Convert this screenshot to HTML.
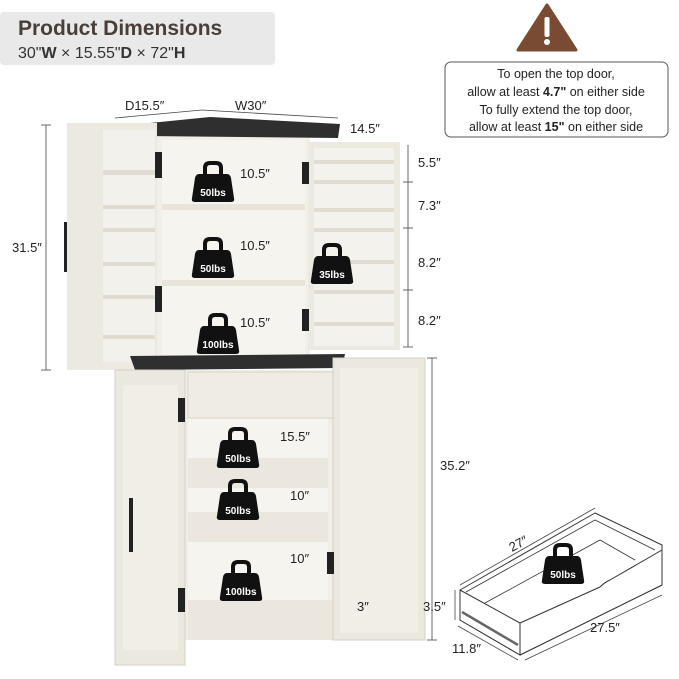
<!DOCTYPE html>
<html><head><meta charset="utf-8"><style>
html,body{margin:0;padding:0;background:#fff;width:679px;height:679px;overflow:hidden}
svg{display:block}
text{font-family:"Liberation Sans",sans-serif}
</style></head><body>
<svg width="679" height="679" viewBox="0 0 679 679" xmlns="http://www.w3.org/2000/svg">
<defs>
<g id="kb">
<path d="M-8,-14 L-8,-20 Q-8,-25 -3,-25 L3,-25 Q8,-25 8,-20 L8,-14" fill="none" stroke="#111" stroke-width="4"/>
<path d="M-14,-14 L14,-14 Q17,-14 18,-10 L21,10 Q22,14 18,14 L-18,14 Q-22,14 -21,10 L-18,-10 Q-17,-14 -14,-14Z" fill="#111"/>
</g>
</defs>
<rect x="0" y="12" width="275" height="53" rx="4" fill="#e9e9e9"/>
<text x="18" y="35" font-size="21" font-weight="bold" fill="#4a3f38">Product Dimensions</text>
<text x="18" y="58" font-size="16" fill="#333">30"<tspan font-weight="bold">W</tspan> × 15.55"<tspan font-weight="bold">D</tspan> × 72"<tspan font-weight="bold">H</tspan></text>
<path d="M547,5 L576,50 L518,50Z" fill="#7a4b33" stroke="#7a4b33" stroke-width="3" stroke-linejoin="round"/>
<rect x="544.5" y="17" width="5" height="20" rx="2" fill="#fff"/>
<circle cx="547" cy="42" r="3" fill="#fff"/>
<rect x="445" y="62" width="223" height="75" rx="6" fill="#fff" stroke="#555" stroke-width="1"/>
<g font-size="12.5" fill="#222" text-anchor="middle">
<text x="556" y="78">To open the top door,</text>
<text x="556" y="96">allow at least <tspan font-weight="bold">4.7"</tspan> on either side</text>
<text x="556" y="114">To fully extend the top door,</text>
<text x="556" y="131">allow at least <tspan font-weight="bold">15"</tspan> on either side</text>
</g>
<g stroke="#444" stroke-width="0.8" fill="none">
<line x1="46" y1="125" x2="46" y2="370"/><line x1="41" y1="125" x2="51" y2="125"/><line x1="41" y1="370" x2="51" y2="370"/>
<line x1="115" y1="118" x2="202" y2="110"/><line x1="202" y1="110" x2="338" y2="118"/>
<line x1="408" y1="145" x2="408" y2="347"/>
<line x1="403" y1="182" x2="413" y2="182"/><line x1="403" y1="228" x2="413" y2="228"/><line x1="403" y1="290" x2="413" y2="290"/><line x1="403" y1="347" x2="413" y2="347"/>
<line x1="432" y1="358" x2="432" y2="640"/><line x1="427" y1="358" x2="437" y2="358"/><line x1="427" y1="640" x2="437" y2="640"/>
<line x1="353" y1="598" x2="353" y2="617"/>
</g>
<rect x="157" y="135" width="153" height="222" fill="#f2efe8"/>
<rect x="162" y="140" width="143" height="215" fill="#f6f4ef"/>
<rect x="162" y="204" width="143" height="6" fill="#e8e4da"/>
<rect x="162" y="280" width="143" height="6" fill="#e8e4da"/>
<path d="M140,124 L210,117 L340,124 L338,138 L145,136Z" fill="#2f2f2f"/>
<rect x="67" y="123" width="90" height="247" fill="#ece9e1"/>
<rect x="103" y="130" width="52" height="232" fill="#f3f1eb"/>
<g fill="#e0dcd2">
<rect x="103" y="170" width="52" height="5"/><rect x="103" y="205" width="52" height="4"/><rect x="103" y="228" width="52" height="4"/><rect x="103" y="262" width="52" height="4"/><rect x="103" y="295" width="52" height="4"/><rect x="103" y="335" width="52" height="4"/>
</g>
<rect x="64" y="222" width="3" height="50" fill="#222"/>
<rect x="155" y="152" width="7" height="26" fill="#222"/><rect x="155" y="286" width="7" height="26" fill="#222"/>
<rect x="308" y="142" width="92" height="208" fill="#ece9e1"/>
<rect x="314" y="148" width="80" height="198" fill="#f4f2ec"/>
<g fill="#e0dcd2">
<rect x="314" y="160" width="80" height="4"/><rect x="314" y="180" width="80" height="4"/><rect x="314" y="208" width="80" height="4"/><rect x="314" y="228" width="80" height="4"/><rect x="314" y="260" width="80" height="4"/><rect x="314" y="290" width="80" height="4"/><rect x="314" y="322" width="80" height="4"/>
</g>
<rect x="302" y="162" width="7" height="22" fill="#222"/><rect x="302" y="309" width="7" height="22" fill="#222"/>
<path d="M130,356 L345,354 L342,368 L135,370Z" fill="#2f2f2f"/>
<rect x="183" y="370" width="150" height="270" fill="#f1eee7"/>
<rect x="188" y="418" width="140" height="220" fill="#f6f4ef"/>
<rect x="188" y="458" width="140" height="30" fill="#ebe7de"/>
<rect x="188" y="512" width="140" height="30" fill="#ebe7de"/>
<rect x="188" y="372" width="148" height="46" fill="#efece4" stroke="#d8d3c8"/>
<rect x="188" y="600" width="145" height="40" fill="#ebe7de"/>
<rect x="115" y="370" width="70" height="295" fill="#ebe8e0" stroke="#d6d1c6"/>
<rect x="123" y="385" width="55" height="265" fill="#f1eee8"/>
<rect x="129" y="498" width="4" height="54" fill="#222"/>
<rect x="178" y="398" width="7" height="24" fill="#222"/><rect x="178" y="588" width="7" height="24" fill="#222"/>
<rect x="333" y="358" width="92" height="282" fill="#ebe8e0" stroke="#d6d1c6"/>
<rect x="340" y="368" width="78" height="265" fill="#f1eee8"/>
<rect x="327" y="552" width="7" height="22" fill="#222"/>
<!-- drawer -->
<g fill="#fff" stroke="#333" stroke-width="1" stroke-linejoin="round">
<path d="M460,590 L595,513 L662,545 L662,585 L520,655 L460,620Z"/>
<path d="M460,590 L520,623 L520,655 L460,620Z"/>
<path d="M520,623 L600,587 Q605,582 610,580 L662,550 L662,585 L520,655Z"/>
<path d="M466,592 L595,520 L655,550" fill="none" stroke-width="0.8"/>
<path d="M485,603 L600,540 L635,560" fill="none" stroke-width="0.8"/>
</g>
<line x1="462" y1="612" x2="518" y2="645" stroke="#666" stroke-width="2.5"/>
<g stroke="#444" stroke-width="0.8"><line x1="455" y1="590" x2="455" y2="620"/><line x1="458" y1="626" x2="518" y2="660"/><line x1="525" y1="660" x2="662" y2="595"/><line x1="460" y1="585" x2="595" y2="508"/></g>
<g font-size="10" font-weight="bold" fill="#fff" text-anchor="middle">
<use href="#kb" x="213" y="188"/><text x="213" y="196">50lbs</text>
<use href="#kb" x="213" y="264"/><text x="213" y="272">50lbs</text>
<use href="#kb" x="218" y="340"/><text x="218" y="348">100lbs</text>
<use href="#kb" x="332" y="270"/><text x="332" y="278">35lbs</text>
<use href="#kb" x="238" y="454"/><text x="238" y="462">50lbs</text>
<use href="#kb" x="238" y="506"/><text x="238" y="514">50lbs</text>
<use href="#kb" x="241" y="587"/><text x="241" y="595">100lbs</text>
<use href="#kb" x="563" y="570"/><text x="563" y="578">50lbs</text>
</g>
<g font-size="13" fill="#222">
<text x="125" y="110">D15.5″</text><text x="235" y="110">W30″</text>
<text x="350" y="133">14.5″</text>
<text x="240" y="178">10.5″</text><text x="240" y="250">10.5″</text><text x="240" y="327">10.5″</text>
<text x="418" y="167">5.5″</text><text x="418" y="210">7.3″</text><text x="418" y="267">8.2″</text><text x="418" y="325">8.2″</text>
<text x="12" y="252">31.5″</text>
<text x="280" y="441">15.5″</text><text x="290" y="500">10″</text><text x="290" y="563">10″</text>
<text x="440" y="470">35.2″</text><text x="357" y="611">3″</text>
<text x="512" y="552" transform="rotate(-28 512 552)">27″</text><text x="423" y="611">3.5″</text><text x="590" y="632">27.5″</text><text x="452" y="653">11.8″</text>
</g>
</svg>
</body></html>
